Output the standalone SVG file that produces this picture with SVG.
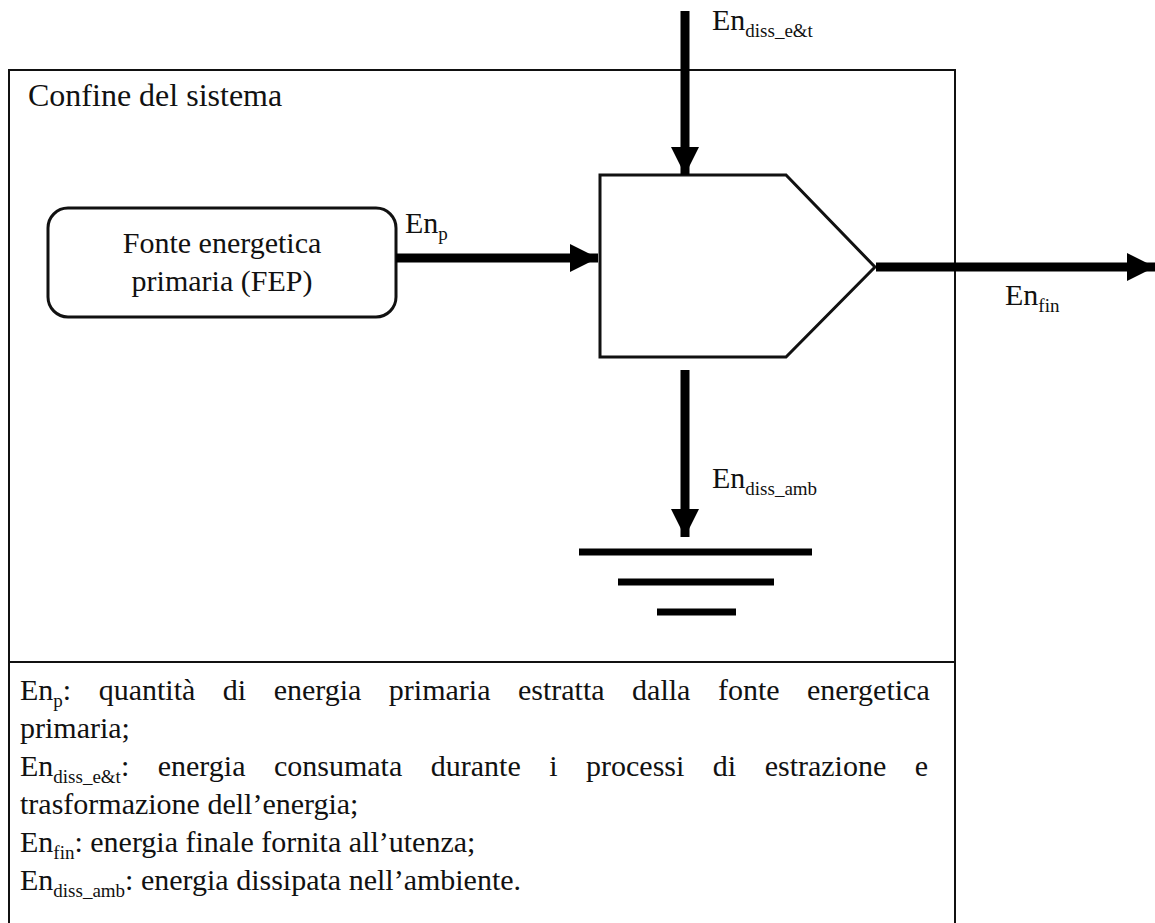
<svg xmlns="http://www.w3.org/2000/svg" width="1155" height="923" viewBox="0 0 1155 923">
<style>
.t{fill:#111;font-size:30px}
.sub{font-size:19px}
.thin{fill:none;stroke:#111;stroke-width:2}
.shape{fill:#fff;stroke:#111;stroke-width:3}
.flow{stroke:#000;stroke-width:9;fill:none}
.gnd{stroke:#000;stroke-width:7}
</style>
<defs>
<marker id="ah" viewBox="0 0 10 10" refX="10" refY="5" markerUnits="userSpaceOnUse" markerWidth="28" markerHeight="28" orient="auto"><path d="M0,0 L10,5 L0,10 Z" fill="#000"/></marker>
</defs>
<rect width="1155" height="923" fill="#fff"/>
<g id="boundary">
<rect class="thin" x="9" y="70" width="946" height="870"/>
<line class="thin" x1="9" y1="662" x2="955" y2="662"/>
<text class="t" font-family="Liberation Serif, serif" x="28" y="106" style="font-size:32px">Confine del sistema</text>
</g>
<g id="fep">
<rect class="shape" x="48" y="208" width="348" height="109" rx="20"/>
<text class="t" font-family="Liberation Serif, serif" x="222" y="253" text-anchor="middle">Fonte energetica</text>
<text class="t" font-family="Liberation Serif, serif" x="222" y="291" text-anchor="middle">primaria (FEP)</text>
</g>
<g id="process">
<polygon class="shape" points="600,175 786,175 875,267 786,357 600,357"/>
</g>
<g id="ground">
<line class="gnd" x1="579" y1="552" x2="812" y2="552"/>
<line class="gnd" x1="618" y1="582" x2="774" y2="582"/>
<line class="gnd" x1="657" y1="612" x2="736" y2="612"/>
</g>
<g id="connectors">
<line class="flow" x1="396" y1="258" x2="598" y2="258" marker-end="url(#ah)"/>
<line class="flow" x1="685" y1="11" x2="685" y2="175" marker-end="url(#ah)"/>
<line class="flow" x1="876" y1="267" x2="1155" y2="267" marker-end="url(#ah)"/>
<line class="flow" x1="685" y1="370" x2="685" y2="537" marker-end="url(#ah)"/>
</g>
<g id="labels">
<text class="t" font-family="Liberation Serif, serif" x="405" y="233">En<tspan class="sub" dy="7">p</tspan></text>
<text class="t" font-family="Liberation Serif, serif" x="712" y="30">En<tspan class="sub" dy="7">diss_e&amp;t</tspan></text>
<text class="t" font-family="Liberation Serif, serif" x="1005" y="305">En<tspan class="sub" dy="7">fin</tspan></text>
<text class="t" font-family="Liberation Serif, serif" x="712" y="488">En<tspan class="sub" dy="7">diss_amb</tspan></text>
</g>
<g id="legend">
<text class="t" font-family="Liberation Serif, serif" x="20" y="700" word-spacing="20">En<tspan class="sub" dy="7">p</tspan><tspan dy="-7">: quantit&#224; di energia primaria estratta dalla fonte energetica</tspan></text>
<text class="t" font-family="Liberation Serif, serif" x="20" y="738">primaria;</text>
<text class="t" font-family="Liberation Serif, serif" x="20" y="776" word-spacing="21">En<tspan class="sub" dy="7">diss_e&amp;t</tspan><tspan dy="-7">: energia consumata durante i processi di estrazione e</tspan></text>
<text class="t" font-family="Liberation Serif, serif" x="20" y="814">trasformazione dell&#8217;energia;</text>
<text class="t" font-family="Liberation Serif, serif" x="20" y="852">En<tspan class="sub" dy="7">fin</tspan><tspan dy="-7">: energia finale fornita all&#8217;utenza;</tspan></text>
<text class="t" font-family="Liberation Serif, serif" x="20" y="890">En<tspan class="sub" dy="7">diss_amb</tspan><tspan dy="-7">: energia dissipata nell&#8217;ambiente.</tspan></text>
</g>
</svg>
